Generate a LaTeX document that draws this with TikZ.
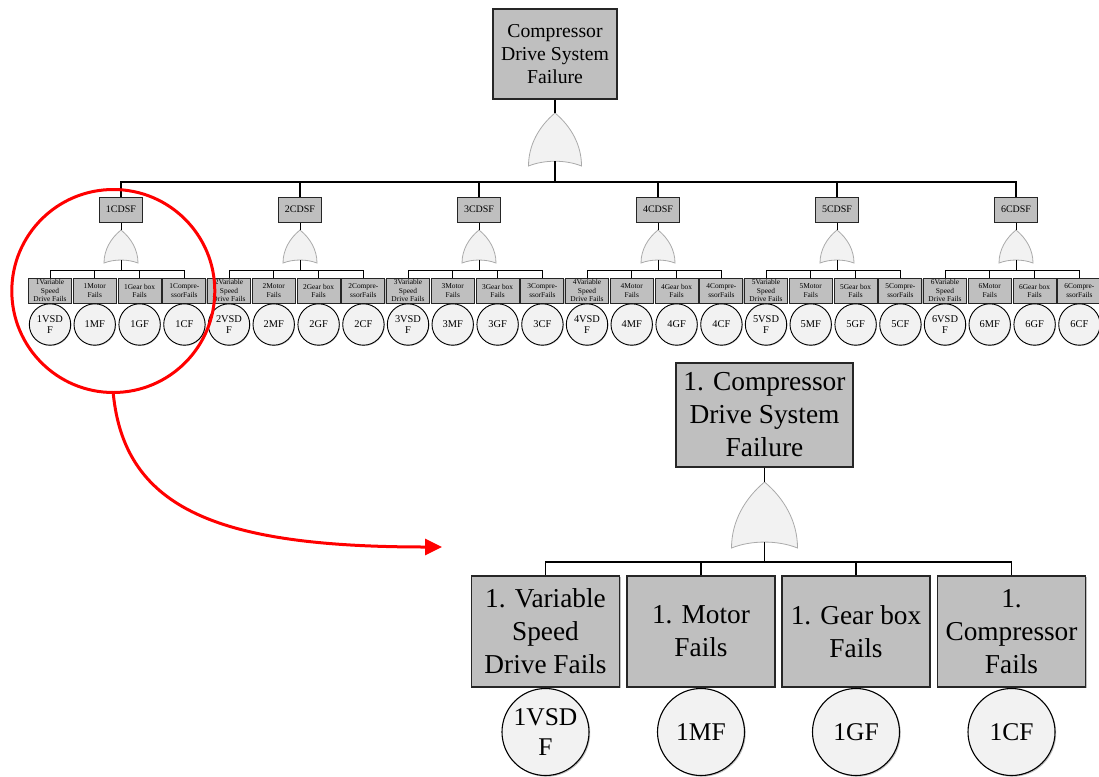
\documentclass[tikz,border=0pt]{standalone}
\usepackage{fontspec}
\setmainfont{Liberation Serif}
\usetikzlibrary{arrows.meta,shadows}
\definecolor{boxgray}{RGB}{191,191,191}
\definecolor{lightfill}{RGB}{242,242,242}
\definecolor{gateline}{RGB}{170,170,170}
\definecolor{ringred}{RGB}{255,0,0}
\newcommand{\OrGate}[4]{%
  \draw[gatestyle, shift={(#1,#2)}] (0,0)
    .. controls ({-0.3*#3},{0.25*#4}) and ({-0.5*#3},{0.6*#4}) .. ({-0.5*#3},{#4})
    .. controls ({-0.2*#3},{0.88*#4}) and ({0.2*#3},{0.88*#4}) .. ({0.5*#3},{#4})
    .. controls ({0.5*#3},{0.6*#4}) and ({0.3*#3},{0.25*#4}) .. cycle;}
\begin{document}
\begin{tikzpicture}[x=1pt,y=-1pt,
  gatestyle/.style={fill=lightfill, draw=gateline, line width=0.8pt},
  boxshadow/.style={drop shadow={shadow xshift=1.2pt, shadow yshift=-1.2pt, opacity=0.25, fill=black}},
  smallshadow/.style={drop shadow={shadow xshift=0.7pt, shadow yshift=-0.7pt, opacity=0.25, fill=black}},
  topbox/.style={rectangle, draw=black!85, fill=boxgray, line width=1.2pt, minimum width=124pt, minimum height=90pt, inner sep=0pt, align=center, font=\fontsize{19.7}{23}\selectfont, boxshadow},
  midbox/.style={rectangle, draw=black!85, fill=boxgray, line width=1pt, minimum width=43pt, minimum height=25pt, inner sep=0pt, align=center, font=\fontsize{10}{11}\selectfont, smallshadow},
  smallbox/.style={rectangle, draw=black!85, fill=boxgray, line width=0.9pt, minimum width=43pt, minimum height=25.3pt, inner sep=0pt, align=center, font=\fontsize{7.4}{8.4}\selectfont, smallshadow},
  smallcirc/.style={circle, draw=black, fill=lightfill, line width=0.9pt, minimum size=41.4pt, inner sep=0pt, align=center, font=\fontsize{10.4}{11}\selectfont, smallshadow},
  bigtop/.style={rectangle, draw=black!85, fill=boxgray, line width=1.3pt, minimum width=177pt, minimum height=104pt, inner sep=0pt, align=center, font=\fontsize{27.4}{33}\selectfont, boxshadow},
  bigbox/.style={rectangle, draw=black!85, fill=boxgray, line width=1.3pt, minimum width=148pt, minimum height=111pt, inner sep=0pt, align=center, font=\fontsize{27.3}{33}\selectfont, boxshadow},
  bigcirc/.style={circle, draw=black, fill=lightfill, line width=1.1pt, minimum size=87pt, inner sep=0pt, align=center, font=\fontsize{25.5}{30}\selectfont, boxshadow},
  mainline/.style={draw=black, line width=1.5pt},
  thinline/.style={draw=black, line width=1pt},
  bigline/.style={draw=black, line width=1.3pt},
  redring/.style={circle, draw=ringred, line width=3pt, minimum size=203pt, inner sep=0pt},
  redarrow/.style={draw=ringred, line width=3pt, -{Triangle[length=17pt,width=16pt]}}
]
\useasboundingbox (0,0) rectangle (1099,776);

% ---- top event
\node[topbox] (top) at (555,54) {Compressor\\Drive System\\Failure};
\coordinate (tgt) at (555,113);
\coordinate (tgn) at (555,161.2);
\coordinate (tbar) at (555,182);
\OrGate{555}{113}{53}{53}
\draw[mainline] (top.south) -- (tgt);
\draw[mainline] (tgn) -- (tbar);

% ---- six subtrees
\foreach \n in {1,...,6}{
  \pgfmathsetmacro{\cx}{121+179*(\n-1)}
  \node[midbox] (s\n) at (\cx,209.5) {\n CDSF};
  \draw[mainline] (s\n.north) |- (tbar);
  \coordinate (gt\n) at (\cx,230);
  \coordinate (gn\n) at (\cx,260);
  \coordinate (gb\n) at (\cx,270.7);
  \OrGate{\cx}{230}{34}{33}
  \draw[thinline] (s\n.south) -- (gt\n);
  \draw[thinline] (gn\n) -- (gb\n);
  \node[smallbox] (c\n a) at (\cx-71,290.7) {\n Variable\\Speed\\Drive Fails};
  \node[smallbox] (c\n b) at (\cx-26.3,290.7) {\n Motor\\Fails};
  \node[smallbox] (c\n c) at (\cx+18.6,290.7) {\n Gear box\\Fails};
  \node[smallbox] (c\n d) at (\cx+63.4,290.7) {\n Compre-\\ssorFails};
  \foreach \m in {a,b,c,d}{\draw[thinline] (c\n\m.north) |- (gb\n);}
  \node[smallcirc] (e\n a) at (\cx-71,324.5) {\n VSD\\F};
  \node[smallcirc] (e\n b) at (\cx-26.3,324.5) {\n MF};
  \node[smallcirc] (e\n c) at (\cx+18.6,324.5) {\n GF};
  \node[smallcirc] (e\n d) at (\cx+63.4,324.5) {\n CF};
}

% ---- enlarged subtree
\node[bigtop] (bt) at (764.5,415) {1. Compressor\\Drive System\\Failure};
\coordinate (bgt) at (764.5,482);
\coordinate (bgn) at (764.5,542);
\coordinate (bbar) at (764.5,562);
\OrGate{764.5}{482}{66}{66}
\draw[bigline] (bt.south) -- (bgt);
\draw[bigline] (bgn) -- (bbar);
\node[bigbox] (b1) at (545.5,631.5) {1. Variable\\Speed\\Drive Fails};
\node[bigbox] (b2) at (701,631.5) {1. Motor\\Fails};
\node[bigbox] (b3) at (856,631.5) {1. Gear box\\Fails};
\node[bigbox] (b4) at (1011.5,631.5) {1.\\Compressor\\Fails};
\foreach \m in {1,2,3,4}{\draw[bigline] (b\m.north) |- (bbar);}
\node[bigcirc] (o1) at (545.5,732) {1VSD\\F};
\node[bigcirc] (o2) at (701,732) {1MF};
\node[bigcirc] (o3) at (856,732) {1GF};
\node[bigcirc] (o4) at (1011.5,732) {1CF};

% ---- red highlight
\node[redring] (ring) at (113.3,291) {};
\coordinate (tip) at (442,547);
\draw[redarrow] (ring.south) .. controls (125,510) and (220,547) .. (tip);
\end{tikzpicture}
\end{document}
